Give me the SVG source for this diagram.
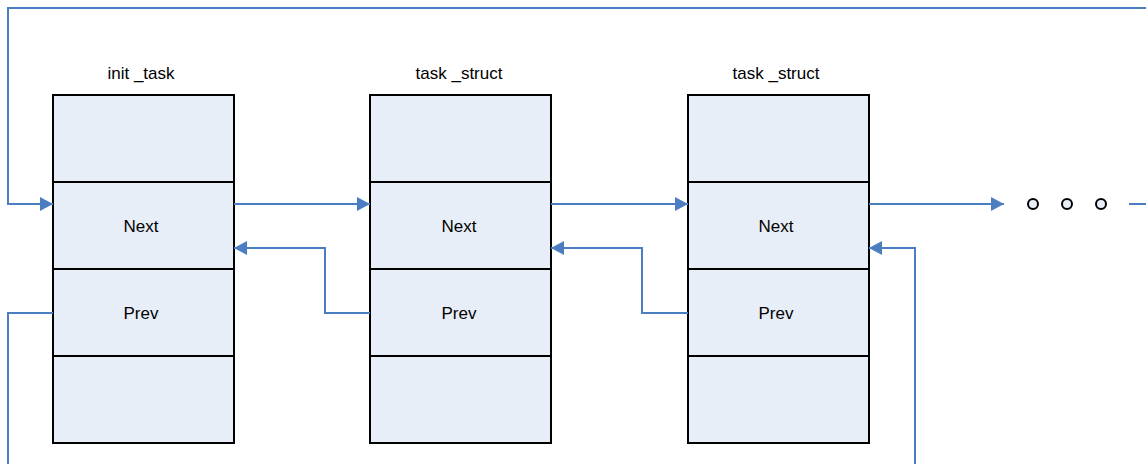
<svg xmlns="http://www.w3.org/2000/svg" width="1146" height="464" viewBox="0 0 1146 464">
<style>
.cell{fill:#E8EEF7;stroke:#000;stroke-width:2}
.lbl{font-family:"Liberation Sans",Arial,sans-serif;font-size:17px;fill:#000;text-anchor:middle}
.c{fill:none;stroke:#4A7EC0;stroke-width:2}
.dot{fill:#E8EEF7;stroke:#000;stroke-width:2}
</style>
<defs>
<marker id="ah" viewBox="0 0 13 14" refX="13" refY="7" markerWidth="13" markerHeight="14" markerUnits="userSpaceOnUse" orient="auto">
<path d="M0,0 L13,7 L0,14 Z" fill="#4A7EC0"/>
</marker>
</defs>
<rect width="1146" height="464" fill="#fff"/>
<g id="node1">
<text class="lbl" x="141" y="79">init _task</text>
<rect class="cell" x="53" y="95" width="181" height="87"/>
<rect class="cell" x="53" y="182" width="181" height="87"/>
<rect class="cell" x="53" y="269" width="181" height="87"/>
<rect class="cell" x="53" y="356" width="181" height="87"/>
<text class="lbl" x="141" y="232">Next</text>
<text class="lbl" x="141" y="319">Prev</text>
</g>
<g id="node2">
<text class="lbl" x="459" y="79">task _struct</text>
<rect class="cell" x="370" y="95" width="181" height="87"/>
<rect class="cell" x="370" y="182" width="181" height="87"/>
<rect class="cell" x="370" y="269" width="181" height="87"/>
<rect class="cell" x="370" y="356" width="181" height="87"/>
<text class="lbl" x="459" y="232">Next</text>
<text class="lbl" x="459" y="319">Prev</text>
</g>
<g id="node3">
<text class="lbl" x="776" y="79">task _struct</text>
<rect class="cell" x="688" y="95" width="181" height="87"/>
<rect class="cell" x="688" y="182" width="181" height="87"/>
<rect class="cell" x="688" y="269" width="181" height="87"/>
<rect class="cell" x="688" y="356" width="181" height="87"/>
<text class="lbl" x="776" y="232">Next</text>
<text class="lbl" x="776" y="319">Prev</text>
</g>
<g id="ellipsis">
<circle class="dot" cx="1033" cy="204" r="5"/>
<circle class="dot" cx="1067" cy="204" r="5"/>
<circle class="dot" cx="1101" cy="204" r="5"/>
</g>
<g id="connectors">
<polyline class="c" points="1146,8 8,8 8,204 53,204" marker-end="url(#ah)"/>
<line class="c" x1="234" y1="204" x2="370" y2="204" marker-end="url(#ah)"/>
<line class="c" x1="551" y1="204" x2="688" y2="204" marker-end="url(#ah)"/>
<line class="c" x1="869" y1="204" x2="1004" y2="204" marker-end="url(#ah)"/>
<line class="c" x1="1129" y1="204" x2="1146" y2="204"/>
<polyline class="c" points="370,313 325,313 325,248 234,248" marker-end="url(#ah)"/>
<polyline class="c" points="688,313 642,313 642,248 551,248" marker-end="url(#ah)"/>
<polyline class="c" points="53,313 8,313 8,464"/>
<polyline class="c" points="915,464 915,248 869,248" marker-end="url(#ah)"/>
</g>
</svg>
